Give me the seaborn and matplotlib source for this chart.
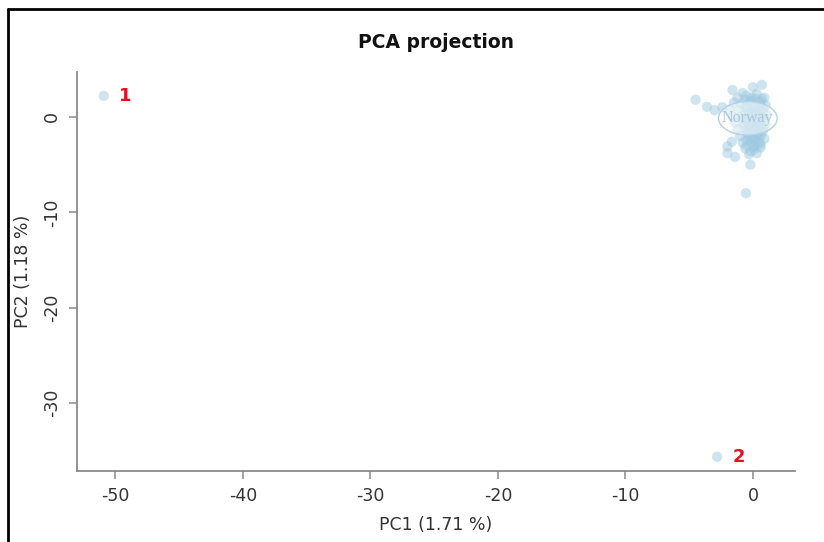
import matplotlib
matplotlib.use("Agg")
import matplotlib.pyplot as plt
import seaborn as sns
import pandas as pd
from matplotlib.patches import Ellipse
from matplotlib.lines import Line2D

# ---- data ----
outlier_ids = ["1", "2"]
outlier_pc1 = [-50.9, -2.8]
outlier_pc2 = [2.2, -35.6]

cluster_pc1 = [-4.5, -3.6, -3.0, -2.4, -1.6, -0.8, 0.0, 0.7, -2.0, -1.65, -2.0, -1.4, -0.2, -0.2, -0.55,
               -1.2, -0.5, 0.3, 0.9, -1.5, -0.9, -0.2, 0.5, 1.0,
               -1.8, -1.1, -0.4, 0.2, 0.8, 1.1,
               -1.6, -0.9, -0.3, 0.3, 0.9,
               -1.4, -0.7, 0.0, 0.6, 1.0,
               -1.2, -0.5, 0.2, 0.8,
               -1.0, -0.3, 0.4, 0.9,
               -0.8, -0.1, 0.5,
               -0.6, 0.1, 0.6,
               -0.3, 0.3,
               -0.6, 0.0, 0.5, -0.2, 0.3, -0.5, 0.2, 0.7, -0.1,
               0.4, -0.4, 0.1, 0.6, -0.7, 0.2, 0.8, 0.0, -0.3, 0.5,
               -0.6, -0.2, 0.2, 0.6, -0.4, 0.0, 0.4, 0.8, -0.5, -0.1, 0.3, 0.7,
               -0.7, -0.3, 0.1, 0.5, -0.4, 0.0, 0.4, -0.2, 0.2, 0.6, -0.5, 0.1]
cluster_pc2 = [1.8, 1.05, 0.7, 1.0, 2.8, 2.5, 3.1, 3.35, -3.1, -2.6, -3.8, -4.2, -3.6, -5.0, -8.0,
               2.0, 2.2, 2.4, 2.0, 1.5, 1.4, 1.6, 1.5, 1.2,
               0.8, 0.7, 0.9, 0.8, 0.6, 0.2,
               0.0, 0.1, 0.0, 0.2, -0.2,
               -0.6, -0.7, -0.5, -0.8, -0.9,
               -1.3, -1.4, -1.2, -1.5,
               -2.0, -2.1, -2.0, -2.3,
               -2.7, -2.8, -2.7,
               -3.3, -3.4, -3.2,
               -3.9, -3.8,
               1.0, 1.2, 0.0, -0.9, -1.7, -2.4, -2.5, 1.9, 2.0,
               -1.0, -1.8, -3.0, -2.0, -0.2, 0.5, -1.2, -2.3, 0.4, 1.1,
               1.8, 1.7, 1.9, 1.6, 0.5, 0.6, 0.4, 0.9, -0.4, -0.3, -0.5, -0.1,
               -1.0, -1.1, -0.9, -1.2, -1.6, -1.5, -1.7, -2.5, -2.6, -2.9, -3.0, -3.1]

group_label = "Norway"
group_center = (-0.4, -0.15)
group_size = (4.6, 3.5)

xticks = [-50, -40, -30, -20, -10, 0]
yticks = [0, -10, -20, -30]

# ---- figure ----
sns.set_style("white")
plt.rcParams["font.family"] = ["DejaVu Sans"]

fig = plt.figure(figsize=(8.24, 5.42), dpi=100)
ax = fig.add_axes([77 / 824, 1 - 471 / 542, 718 / 824, 399 / 542])

pts = pd.DataFrame({
    "PC1": cluster_pc1 + outlier_pc1,
    "PC2": cluster_pc2 + outlier_pc2,
})
sns.scatterplot(data=pts, x="PC1", y="PC2", ax=ax, color="#9ecae1", alpha=0.5,
                s=55, edgecolor="none", zorder=2)

ell = Ellipse(group_center, group_size[0], group_size[1], facecolor="white", alpha=0.5,
              edgecolor="none", zorder=3)
ax.add_patch(ell)
ell2 = Ellipse(group_center, group_size[0], group_size[1], facecolor="none",
               edgecolor="#b5d3e6", lw=1.0, zorder=4)
ax.add_patch(ell2)
ax.text(group_center[0], group_center[1], group_label, family="Liberation Serif", fontsize=11.5,
        color="#a9c7db", ha="center", va="center", zorder=5)

for lab, x, y in zip(outlier_ids, outlier_pc1, outlier_pc2):
    ax.annotate(lab, (x, y), xytext=(11, 0), textcoords="offset points", color="#e8101c",
                fontsize=13, fontweight="bold", ha="left", va="center")

ax.set_xlim(-53, 3.3)
ax.set_ylim(-37.1, 4.7)
ax.set_xticks(xticks)
ax.set_yticks(yticks)
ax.set_xticklabels([str(t) for t in xticks])
ax.set_yticklabels([str(t) for t in yticks], rotation=90, va="center")

for side in ["top", "right"]:
    ax.spines[side].set_visible(False)
for side in ["left", "bottom"]:
    ax.spines[side].set_color("#8a8a8a")
    ax.spines[side].set_linewidth(1.3)

ax.tick_params(axis="both", which="major", direction="out", length=5.5, width=1.1,
               color="#8a8a8a", labelsize=12.5, labelcolor="#333333", pad=6,
               bottom=True, left=True)

ax.set_xlabel("PC1 (1.71 %)", fontsize=12.5, color="#333333", labelpad=8)
ax.set_ylabel("PC2 (1.18 %)", fontsize=12.5, color="#333333", labelpad=8)
ax.set_title("PCA projection", fontsize=13.5, fontweight="bold", color="#111111", pad=17)

# frame lines (top and left) of the original screenshot
fig.add_artist(Line2D([8 / 824, 1.0], [1 - 9 / 542, 1 - 9 / 542], color="black", lw=2.0,
                      transform=fig.transFigure))
fig.add_artist(Line2D([8 / 824, 8 / 824], [0, 1 - 9 / 542], color="black", lw=2.0,
                      transform=fig.transFigure))

fig.savefig("out.png", dpi=100)
